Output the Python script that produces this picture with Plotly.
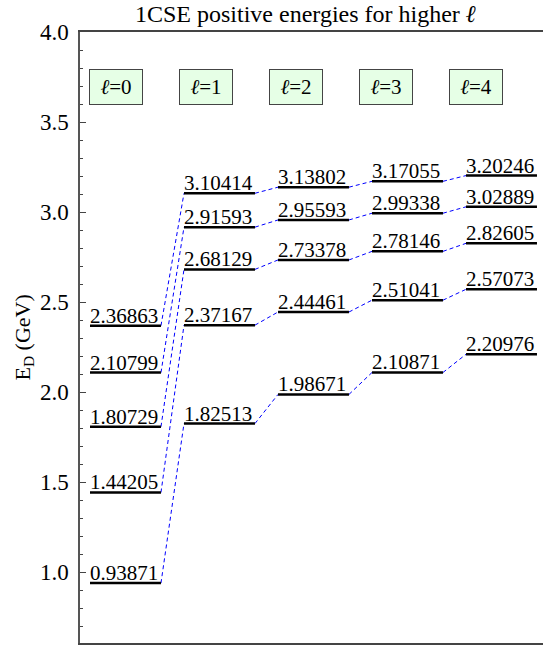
import plotly.graph_objects as go

# Data
ells = [0, 1, 2, 3, 4]
box_labels = ["<i>ℓ</i>=0", "<i>ℓ</i>=1", "<i>ℓ</i>=2", "<i>ℓ</i>=3", "<i>ℓ</i>=4"]
E_l0 = [0.93871, 1.44205, 1.80729, 2.10799, 2.36863]
E_l1 = [1.82513, 2.37167, 2.68129, 2.91593, 3.10414]
E_l2 = [1.98671, 2.44461, 2.73378, 2.95593, 3.13802]
E_l3 = [2.10871, 2.51041, 2.78146, 2.99338, 3.17055]
E_l4 = [2.20976, 2.57073, 2.82605, 3.02889, 3.20246]
levels = [E_l0, E_l1, E_l2, E_l3, E_l4]

title_text = "1CSE positive energies for higher <i>ℓ</i>"
y_title = "E<sub>D</sub> (GeV)"
y_ticks = [1.0, 1.5, 2.0, 2.5, 3.0, 3.5, 4.0]

# layout constants
W, H = 543, 647
L, R, T, B = 80, 0, 32, 4
LEVEL_W = 0.755
XR = [-0.1064, 4.819]
YR = [0.606, 4.0]
FONT = "Liberation Serif"

fig = go.Figure()

# connectors
cx, cy = [], []
for n in range(len(levels) - 1):
    for a, b in zip(levels[n], levels[n + 1]):
        cx += [ells[n] + LEVEL_W, ells[n + 1], None]
        cy += [a, b, None]
fig.add_trace(go.Scatter(x=cx, y=cy, mode="lines",
                         line=dict(color="#0000ff", width=1, dash="4px,3px"),
                         hoverinfo="skip", showlegend=False))

# levels
lx, ly = [], []
for n, lev in zip(ells, levels):
    for e in lev:
        lx += [n, n + LEVEL_W, None]
        ly += [e, e, None]
fig.add_trace(go.Scatter(x=lx, y=ly, mode="lines",
                         line=dict(color="black", width=2.5),
                         hoverinfo="skip", showlegend=False))

ann = []
for n, lev in zip(ells, levels):
    for e in lev:
        ann.append(dict(x=n, y=e, xref="x", yref="y", text=f"{e:.5f}",
                        xanchor="left", yanchor="bottom", showarrow=False,
                        xshift=-2, yshift=-4,
                        font=dict(family=FONT, size=21, color="black")))

# legend-like boxes
for i, t in enumerate(box_labels):
    px_c = 116 + 90 * i
    ann.append(dict(x=(px_c - L) / (W - L - R), y=3.697, xref="paper", yref="y",
                    text=t, showarrow=False, xanchor="center", yanchor="middle",
                    width=52, height=34, bgcolor="#e6ffe6", bordercolor="#444",
                    borderwidth=1, borderpad=0,
                    font=dict(family=FONT, size=21, color="black")))

ann.append(dict(x=(305 - L) / (W - L - R), y=1, xref="paper", yref="paper",
                text=title_text, showarrow=False, xanchor="center",
                yanchor="bottom", yshift=3,
                font=dict(family=FONT, size=24, color="black")))
ann.append(dict(x=-57 / (W - L - R), y=0.5, xref="paper", yref="paper",
                text=y_title, showarrow=False, textangle=-90,
                xanchor="center", yanchor="middle",
                font=dict(family=FONT, size=22, color="black")))

fig.update_layout(
    width=W, height=H,
    margin=dict(l=L, r=R, t=T, b=B),
    plot_bgcolor="white", paper_bgcolor="white",
    annotations=ann,
    xaxis=dict(range=XR, showgrid=False, zeroline=False, showticklabels=False,
               ticks="", showline=True, mirror=True, linecolor="#444",
               linewidth=1.5),
    yaxis=dict(range=YR, showgrid=False, zeroline=False, showline=True,
               linecolor="#555", linewidth=1.5, tickvals=y_ticks,
               tickformat=".1f", ticks="inside", ticklen=6, tickcolor="#444",
               tickwidth=1, ticklabelstandoff=5,
               tickfont=dict(family=FONT, size=23, color="black"),
               minor=dict(dtick=0.1, tick0=0, ticks="inside", ticklen=3,
                          tickcolor="#444", tickwidth=1)),
)

fig.write_html("out.html", config={"displayModeBar": False},
               post_script="document.body.style.margin='0';document.body.style.overflow='hidden';")
